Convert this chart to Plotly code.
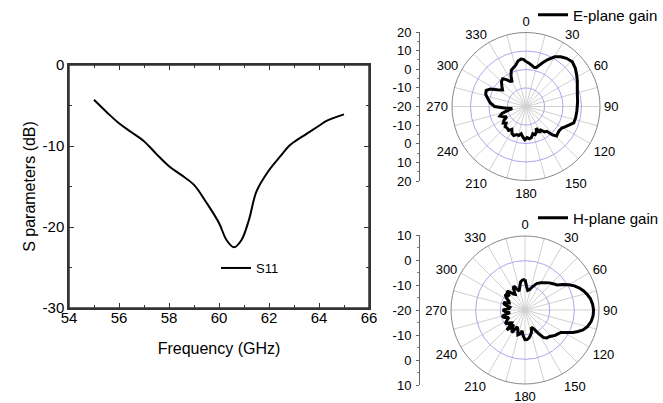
import plotly.graph_objects as go

# ---------------- data ----------------
freq_ghz = [55.0, 55.5, 56.0, 56.5, 57.0, 57.5, 58.0, 58.5, 59.0, 59.5, 60.0, 60.3, 60.6,
            60.9, 61.2, 61.5, 62.0, 62.5, 62.8, 63.0, 63.5, 64.0, 64.3, 65.0]
s11_db = [-4.3, -5.8, -7.2, -8.3, -9.4, -11.0, -12.5, -13.6, -14.8, -17.0, -19.5, -21.6, -22.5,
          -21.6, -19.1, -15.6, -13.0, -11.1, -10.0, -9.5, -8.5, -7.5, -6.9, -6.1]
s_tick_vals = [-30, -20, -10, 0]
s_tick_labels = ["-30", "-20", "-10", "0"]

e_theta = [0, 4, 8, 12, 15, 18, 21, 25, 30, 35, 40, 46, 52, 58, 64, 70, 77, 85, 95, 103, 109,
           113, 117, 121, 126, 131, 134, 137, 140, 144, 148, 152, 155, 158, 162, 166, 170, 174,
           178, 182, 186, 190, 194, 198, 203, 207, 212, 216, 221, 226, 230, 234, 238, 242, 246,
           250, 254, 258, 262, 265, 270, 276, 282, 287, 292, 296, 300, 305, 310, 315, 320, 324,
           328, 331, 334, 338, 342, 346, 350, 354, 357, 360]
e_gain = [4.3, 3.5, 2.4, 1.5, 1.8, 3.5, 5.5, 8.0, 11.0, 12.8, 14.0, 14.8, 13.8, 12.3, 10.9, 9.5,
          8.5, 8.0, 7.6, 7.5, 7.3, 5.5, 4.0, 2.6, 2.2, 2.6, 3.0, 1.0, -2.5, -3.0, -5.0, -4.0, -7.0,
          -5.0, -4.0, -4.8, -3.0, -2.5, -3.2, -2.0, -3.5, -5.0, -3.8, -4.0, -3.0, -3.5, -5.5, -4.0,
          -4.5, -4.3, -6.0, -4.8, -6.0, -8.2, -6.5, -5.0, -6.5, -10.0, -12.5, -9.0, -3.0, -0.5,
          1.2, 2.8, 3.2, 1.5, -2.0, -4.5, -3.0, -1.2, -0.4, -2.0, -4.0, -4.3, -1.5, 1.2, 2.0, 3.0,
          5.0, 5.8, 5.5, 4.3]

h_theta = [0, 4, 8, 13, 18, 24, 30, 36, 42, 48, 52, 56, 60, 64, 68, 72, 76, 80, 85, 90, 95, 100,
           105, 109, 112, 115, 118, 122, 126, 130, 134, 138, 142, 146, 150, 155, 160, 164, 168,
           172, 176, 180, 184, 188, 192, 196, 200, 205, 210, 214, 218, 222, 226, 230, 235, 240,
           245, 250, 255, 260, 265, 270, 275, 280, 285, 289, 294, 299, 303, 308, 312, 316, 320,
           324, 328, 332, 335, 339, 343, 347, 351, 355, 360]
h_gain = [-7.6, -10.5, -12.0, -11.5, -10.0, -8.3, -7.2, -6.3, -5.2, -4.2, -3.5, -1.5, 0.5, 2.3,
          3.8, 5.0, 6.0, 6.9, 7.5, 7.8, 7.7, 7.2, 6.2, 4.9, 3.2, 1.5, -0.5, -2.8, -3.5, -4.0, -4.8,
          -5.4, -5.6, -6.5, -9.0, -11.5, -12.5, -10.5, -9.5, -8.5, -8.0, -8.0, -9.5, -11.5, -10.0,
          -9.5, -11.5, -12.5, -9.5, -10.5, -12.5, -9.0, -12.5, -12.0, -10.3, -11.5, -12.8, -11.0,
          -10.4, -13.8, -12.0, -11.0, -13.5, -13.8, -11.5, -10.8, -13.0, -12.5, -11.0, -9.8,
          -11.5, -9.4, -10.5, -12.0, -12.5, -10.0, -9.3, -11.0, -12.0, -10.5, -8.5, -7.8, -7.6]

angle_ticks = list(range(0, 360, 15))
angle_labels = [str(a) if a % 30 == 0 else "" for a in angle_ticks]
e_scale_vals = [-40, -30, -20, -10, 0, 10, 20, 30, 40]
e_scale_labels = ["20", "10", "0", "-10", "-20", "-10", "0", "10", "20"]
h_scale_vals = [-30, -20, -10, 0, 10, 20, 30]
h_scale_labels = ["10", "0", "-10", "-20", "-10", "0", "10"]

FONT = "Arial, Liberation Sans, sans-serif"
AXC = "#333333"

fig = go.Figure()

fig.add_trace(go.Scatter(x=freq_ghz, y=s11_db, mode="lines", name="S11",
                         line=dict(color="black", width=2, shape="spline"),
                         xaxis="x", yaxis="y", legend="legend"))

fig.add_trace(go.Scatterpolar(theta=e_theta, r=e_gain, mode="lines", name="E-plane gain",
                              line=dict(color="black", width=3), subplot="polar",
                              legend="legend2"))
fig.add_trace(go.Scatterpolar(theta=h_theta, r=h_gain, mode="lines", name="H-plane gain",
                              line=dict(color="black", width=3), subplot="polar2",
                              legend="legend3"))

# invisible traces carrying the side scales of the polar plots
fig.add_trace(go.Scatter(x=[0, 1], y=[-40, 40], mode="markers", marker=dict(opacity=0),
                         xaxis="x2", yaxis="y2", showlegend=False, hoverinfo="skip"))
fig.add_trace(go.Scatter(x=[0, 1], y=[-30, 30], mode="markers", marker=dict(opacity=0),
                         xaxis="x3", yaxis="y3", showlegend=False, hoverinfo="skip"))

W, H = 663, 403
px = lambda v: v / W
py = lambda v: 1 - v / H

def polar_layout(rng, circles, xd, yd):
    return dict(
        domain=dict(x=xd, y=yd),
        bgcolor="white",
        radialaxis=dict(range=rng, tickvals=circles, showticklabels=False, ticks="",
                        showline=False, gridcolor="#a8a8f0", gridwidth=1),
        angularaxis=dict(rotation=90, direction="clockwise", tickvals=angle_ticks,
                         ticktext=angle_labels, ticks="outside", ticklen=1,
                         tickcolor="rgba(0,0,0,0)", gridcolor="#d0d0d0", gridwidth=0.8,
                         showline=True, linecolor="#888888", linewidth=1,
                         tickfont=dict(size=13, color="black", family=FONT)),
    )

side_axis = dict(showline=True, linecolor="#666666", linewidth=1, automargin=False,
                 ticks="outside", ticklen=3, tickcolor="#666666", showgrid=False,
                 zeroline=False, tickfont=dict(size=13), ticklabelstandoff=2,
                 minor=dict(ticks="outside", ticklen=2, dtick=5, tickcolor="#888888"))

fig.update_layout(
    width=W, height=H, margin=dict(l=0, r=0, t=0, b=0, autoexpand=False),
    paper_bgcolor="white", plot_bgcolor="white",
    font=dict(family=FONT, color="black"),
    xaxis=dict(domain=[px(69), px(369)], range=[54, 66], dtick=2, tick0=54, automargin=False,
               showline=True, linecolor=AXC, linewidth=1.5, mirror="ticks",
               ticks="inside", ticklen=5, tickcolor=AXC, showgrid=False, zeroline=False,
               minor=dict(ticks="inside", ticklen=3, dtick=1, tickcolor=AXC),
               ticklabelstandoff=-5,
               tickfont=dict(size=15), title=dict(text="Frequency (GHz)", font=dict(size=16),
                                                  standoff=18)),
    yaxis=dict(domain=[py(308), py(65)], range=[-30, 0], tickvals=s_tick_vals,
               ticktext=s_tick_labels, automargin=False,
               showline=True, linecolor=AXC, linewidth=1.5, mirror="ticks",
               ticks="inside", ticklen=5, tickcolor=AXC, showgrid=False, zeroline=False,
               minor=dict(ticks="inside", ticklen=3, dtick=5, tick0=0, tickcolor=AXC),
               tickfont=dict(size=15), title=dict(text="S parameters (dB)", font=dict(size=16),
                                                  standoff=3)),
    xaxis2=dict(domain=[px(420), px(422)], visible=False, range=[0, 1]),
    yaxis2=dict(anchor="x2", domain=[py(181), py(32)], range=[-40, 40], tickvals=e_scale_vals,
                ticktext=e_scale_labels[::-1], **side_axis),
    xaxis3=dict(domain=[px(420), px(422)], visible=False, range=[0, 1]),
    yaxis3=dict(anchor="x3", domain=[py(385), py(235)], range=[-30, 30], tickvals=h_scale_vals,
                ticktext=h_scale_labels[::-1], **side_axis),
    polar=polar_layout([-20, 20], [-10, 0, 10], [px(452), px(600)], [py(181), py(32)]),
    polar2=polar_layout([-20, 10], [-10, 0], [px(451), px(599)], [py(384), py(236)]),
    legend=dict(x=px(216), y=py(268), xanchor="left", yanchor="middle",
                bgcolor="rgba(0,0,0,0)", font=dict(size=13), itemwidth=30),
    legend2=dict(x=px(533), y=py(15), xanchor="left", yanchor="middle",
                 bgcolor="rgba(0,0,0,0)", font=dict(size=15), itemwidth=30),
    legend3=dict(x=px(533), y=py(218), xanchor="left", yanchor="middle",
                 bgcolor="rgba(0,0,0,0)", font=dict(size=15), itemwidth=30),
    shapes=[dict(type="rect", xref="x domain", yref="y domain", x0=0, x1=1, y0=0, y1=1,
                 line=dict(color=AXC, width=1.5), layer="above")],
)

fig.write_html("out.html")
